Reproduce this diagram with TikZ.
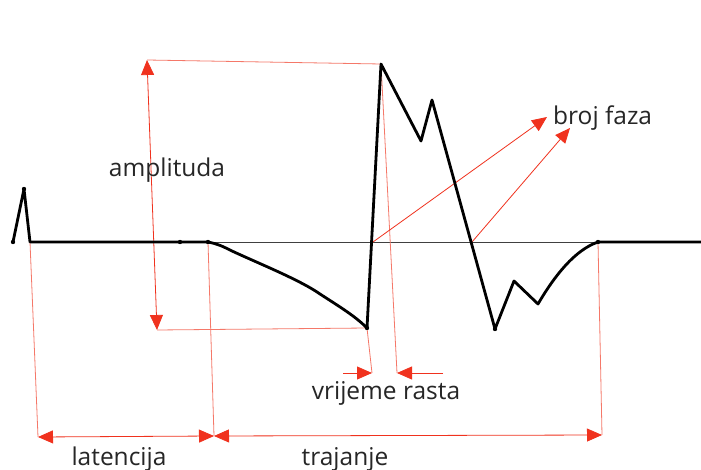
\documentclass[tikz,border=0pt]{standalone}
\usepackage{fontspec}
\setmainfont{Open Sans}
\usetikzlibrary{arrows.meta}
\definecolor{myred}{RGB}{240,50,30}
\definecolor{lred}{RGB}{245,120,105}
\begin{document}
\begin{tikzpicture}[x=1pt,y=-1pt,
  sig/.style={line width=2.8pt,black,line join=round,line cap=round},
  base/.style={line width=0.8pt,black!75},
  redl/.style={draw=lred,line width=0.8pt},
  tip/.style={-{Triangle[length=15pt,width=13pt]}},
  tips/.style={{Triangle[length=15pt,width=13pt]}-{Triangle[length=15pt,width=13pt]}},
  lbl/.style={font=\fontsize{24.5}{27}\selectfont,inner sep=0pt,text=black!85}]
\useasboundingbox[fill=white] (0,0) rectangle (701,470);
% signal points
\coordinate (s0) at (13,242);
\coordinate (s1) at (24,189);
\coordinate (s2) at (30,242);
\coordinate (b1) at (180,242);
\coordinate (b2) at (208,242);
\coordinate (tr) at (367,328);
\coordinate (pk) at (381,64);
\coordinate (m1) at (421,141);
\coordinate (m2) at (432,100);
\coordinate (tr2) at (495,329);
\coordinate (m3) at (514,281);
\coordinate (m4) at (538,304);
\coordinate (e) at (598,242);
\coordinate (fin) at (701,242);
\coordinate (x1) at (373,242);
\coordinate (x2) at (472,242);
% red helper points
\coordinate (at) at (147,60);
\coordinate (ab) at (157,330);
\coordinate (rl) at (372,373);
\coordinate (rr) at (397,373);
\coordinate (rl0) at (343,373);
\coordinate (rr0) at (443,373);
\coordinate (l0) at (38,437);
\coordinate (l1) at (214,436);
\coordinate (t1) at (602,435);
\coordinate (f1) at (547,117);
\coordinate (f2) at (570,128);
% baseline
\draw[base] (b2) -- (e);
% red construction lines
\draw[redl] (at) -- (pk);
\draw[redl] (ab) -- (tr);
\draw[redl] (pk) -- (rr);
\draw[redl] (tr) -- (rl);
\draw[redl] (s2) -- (l0);
\draw[redl] (b2) -- (l1);
\draw[redl] (e) -- (t1);
% red arrows
\draw[redl,tips,myred] (at) -- (ab);
\draw[redl,tip,myred] (rl0) -- (rl);
\draw[redl,tip,myred] (rr0) -- (rr);
\draw[redl,tips,myred] (l0) -- (l1);
\draw[redl,tips,myred] (l1) -- (t1);
\draw[redl,tip,myred] (x1) -- (f1);
\draw[redl,tip,myred] (x2) -- (f2);
% signal
\draw[sig] (s0) -- (s1) -- (s2) -- (b1) -- (b2)
  .. controls (218,244) and (222,246) .. (232,251)
  .. controls (260,264) and (300,280) .. (320,294)
  .. controls (340,307) and (355,316) .. (tr)
  -- (pk) -- (m1) -- (m2) -- (tr2) -- (m3) -- (m4)
  .. controls (555,275) and (575,250) .. (e) -- (fin);
\foreach \p in {s0,s1,b1,b2,tr,tr2,e} \fill (\p) circle (2.2pt);
% labels
\node[lbl] (amp) at (167,170) {amplituda};
\node[lbl] (vr) at (386,393) {vrijeme rasta};
\node[lbl, anchor=west] (bf) at (553,118) {broj faza};
\node[lbl] (lat) at (119,459) {latencija};
\node[lbl] (tra) at (345,459) {trajanje};
\end{tikzpicture}
\end{document}
